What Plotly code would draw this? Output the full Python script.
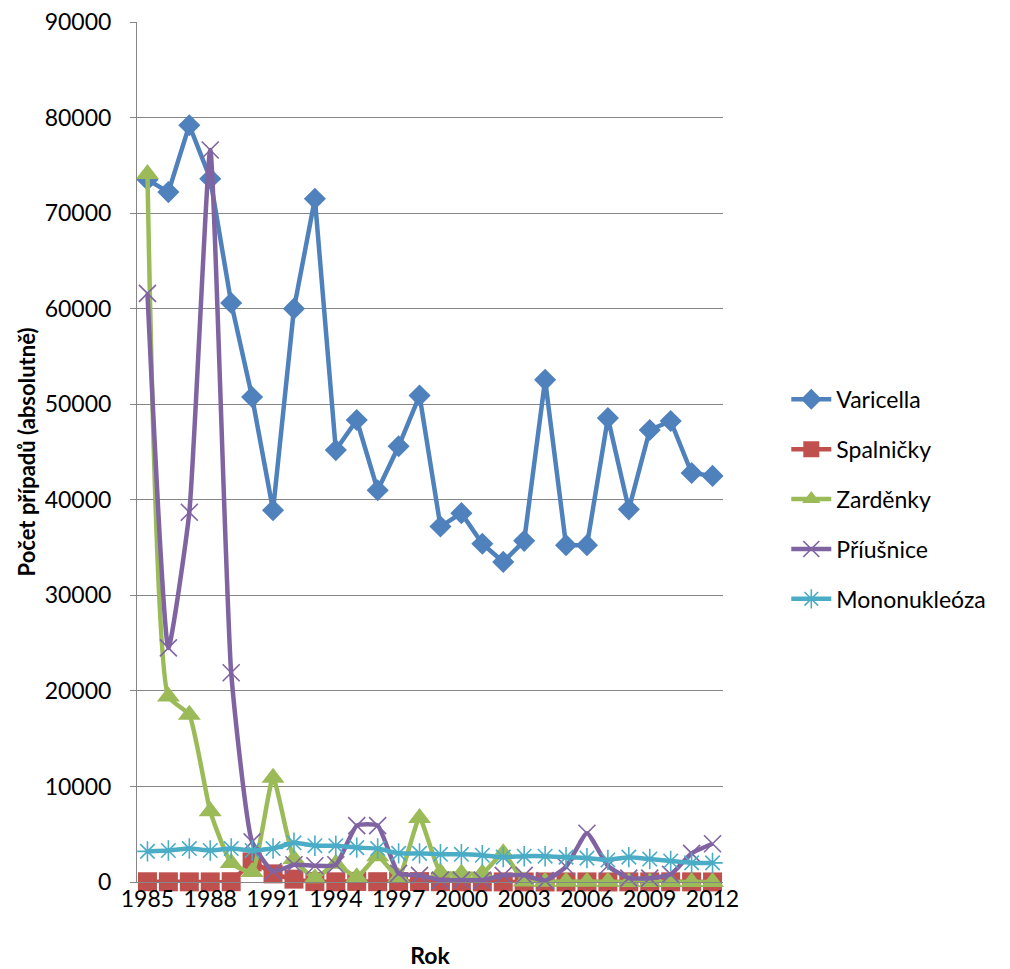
import plotly.graph_objects as go

# Annual case counts, 1985-2012
years = list(range(1985, 2013))

varicella = [73500, 72200, 79200, 73600, 60600, 50750, 38900, 60000, 71500, 45200,
             48350, 41000, 45600, 50900, 37200, 38600, 35400, 33500, 35700, 52550,
             35250, 35250, 48550, 39000, 47300, 48250, 42800, 42500]
spalnicky = [25, 20, 15, 10, 30, 2100, 850, 300, 40, 20,
             60, 30, 50, 40, 30, 20, 15, 10, 5, 5,
             5, 10, 5, 15, 10, 20, 15, 5]
zardenky = [74100, 19400, 17500, 7400, 2000, 1050, 10900, 2400, 400, 1900,
            500, 2700, 500, 6700, 1000, 900, 900, 3000, 50, 30,
            20, 20, 15, 10, 10, 10, 10, 5]
priusnice = [61600, 24500, 38700, 76600, 21900, 4200, 1100, 1800, 1700, 1800,
             5900, 5900, 900, 700, 200, 200, 200, 700, 700, 150,
             1600, 5100, 1700, 400, 400, 800, 3000, 4000]
mononukleoza = [3200, 3300, 3500, 3300, 3500, 3300, 3500, 4100, 3800, 3800,
                3600, 3500, 3000, 3000, 2900, 2900, 2800, 2600, 2700, 2700,
                2600, 2500, 2300, 2600, 2400, 2200, 2000, 2000]

tick_years = list(range(1985, 2013, 3))
y_ticks = list(range(0, 90001, 10000))

# name, values, colour, marker symbol, marker size, marker outline width, line shape
series = [
    ("Varicella", varicella, "#4F81BD", "diamond", 17, 0, "linear"),
    ("Spalničky", spalnicky, "#C0504D", "square", 19, 0, "spline"),
    ("Zarděnky", zardenky, "#9BBB59", "triangle-up", 20, 0, "spline"),
    ("Příušnice", priusnice, "#8064A2", "x-thin", 17, 1.6, "spline"),
    ("Mononukleóza", mononukleoza, "#4BACC6", "asterisk", 17, 1.6, "spline"),
]

fig = go.Figure()
for i, (name, vals, color, symbol, size, lw, shape) in enumerate(series):
    line = dict(color=color, width=4.5, shape=shape)
    if shape == "spline":
        line["smoothing"] = 0.45
    fig.add_trace(go.Scatter(
        x=years, y=vals, name=name, mode="lines+markers",
        line=line,
        marker=dict(symbol=symbol, size=size, color=color,
                    line=dict(color=color, width=lw)),
        cliponaxis=False, legendgroup=str(i),
    ))

base_font = dict(family="Lato, Carlito, Calibri, sans-serif", color="#000000")

fig.update_layout(
    width=1010, height=969,
    margin=dict(l=137, r=287, t=22, b=87),
    paper_bgcolor="white", plot_bgcolor="white",
    font=dict(size=23, **base_font),
    legend=dict(
        x=1.108, xanchor="left", y=0.445, yanchor="middle",
        font=dict(size=23, **base_font),
        tracegroupgap=17, itemwidth=40,
        bgcolor="rgba(0,0,0,0)",
    ),
    xaxis=dict(
        range=[1984.5, 2012.5], automargin=False,
        tickmode="array", tickvals=tick_years, ticktext=[str(y) for y in tick_years],
        showgrid=False, zeroline=False,
        showline=True, linecolor="#868686", linewidth=1,
        ticks="", ticklabelstandoff=-4,
        tickfont=dict(size=23, **base_font),
        title=dict(text="<b>Rok</b>", font=dict(size=23, **base_font), standoff=42),
    ),
    yaxis=dict(
        range=[0, 90000], automargin=False,
        tickmode="array", tickvals=y_ticks, ticktext=[str(v) for v in y_ticks],
        showgrid=True, gridcolor="#868686", gridwidth=1, zeroline=False,
        showline=True, linecolor="#868686", linewidth=1,
        ticks="outside", ticklen=6, tickcolor="#868686",
        ticklabelstandoff=14,
        tickfont=dict(size=23, **base_font),
        title=dict(text="<b>Počet případů (absolutně)</b>",
                   font=dict(size=22, **base_font), standoff=2),
    ),
)

fig.write_html("out.html")
